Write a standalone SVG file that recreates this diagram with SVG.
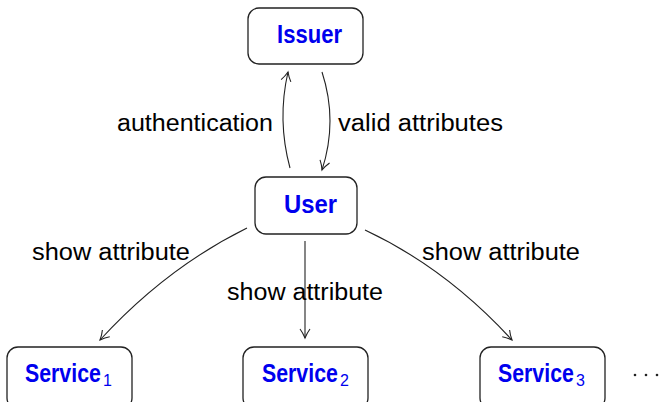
<svg xmlns="http://www.w3.org/2000/svg" width="661" height="402" viewBox="0 0 661 402">
<defs>
<marker id="arr" markerWidth="14" markerHeight="14" refX="10" refY="6" orient="auto" markerUnits="userSpaceOnUse">
<path d="M1,1 Q5,4 10,6 Q5,8 1,11" fill="none" stroke="#222" stroke-width="1.1"/>
</marker>
</defs>
<style>
.box{fill:#fff;stroke:#222;stroke-width:1.3}
.nl{font-family:"Liberation Sans",Arial,sans-serif;font-weight:bold;fill:#0000ee;font-size:26px}
.sub{font-family:"Liberation Sans",Arial,sans-serif;fill:#0000ee;font-size:16px}
.lbl{font-family:"Liberation Sans",Arial,sans-serif;font-size:23px;fill:#000}
.edge{fill:none;stroke:#222;stroke-width:1.1;marker-end:url(#arr)}
</style>
<rect width="661" height="402" fill="#fff"/>
<g id="connectors">
<path class="edge" d="M290,168 Q277,120 288,72"/>
<path class="edge" d="M322,72 Q338,121 322,170"/>
<path class="edge" d="M247,228 Q166,268 100,340"/>
<path class="edge" d="M305,241 L305,338"/>
<path class="edge" d="M365,230 Q446,268 512,340"/>
<text class="lbl" x="117" y="131" textLength="156" lengthAdjust="spacingAndGlyphs">authentication</text>
<text class="lbl" x="338" y="131" textLength="165" lengthAdjust="spacingAndGlyphs">valid attributes</text>
<text class="lbl" x="32" y="260" textLength="158" lengthAdjust="spacingAndGlyphs">show attribute</text>
<text class="lbl" x="227" y="300" textLength="156" lengthAdjust="spacingAndGlyphs">show attribute</text>
<text class="lbl" x="422" y="260" textLength="158" lengthAdjust="spacingAndGlyphs">show attribute</text>
</g>
<g id="issuer">
<rect class="box" x="248" y="8" width="115" height="56" rx="11"/>
<text class="nl" x="277" y="43" textLength="65" lengthAdjust="spacingAndGlyphs">Issuer</text>
</g>
<g id="user">
<rect class="box" x="255" y="177" width="102" height="57" rx="11"/>
<text class="nl" x="284" y="213" textLength="53" lengthAdjust="spacingAndGlyphs">User</text>
</g>
<g id="service1">
<rect class="box" x="7" y="347" width="125" height="62" rx="11"/>
<text class="nl" transform="translate(25,382) scale(0.82,1)">Service</text>
<text class="sub" x="103" y="386">1</text>
</g>
<g id="service2">
<rect class="box" x="243" y="347" width="125" height="62" rx="11"/>
<text class="nl" transform="translate(262,382) scale(0.82,1)">Service</text>
<text class="sub" x="340" y="386">2</text>
</g>
<g id="service3">
<rect class="box" x="480" y="347" width="125" height="62" rx="11"/>
<text class="nl" transform="translate(498,382) scale(0.82,1)">Service</text>
<text class="sub" x="576" y="386">3</text>
</g>
<g id="dots" fill="#222">
<circle cx="635" cy="375" r="1.3"/>
<circle cx="646" cy="375" r="1.3"/>
<circle cx="657" cy="375" r="1.3"/>
</g>
</svg>
